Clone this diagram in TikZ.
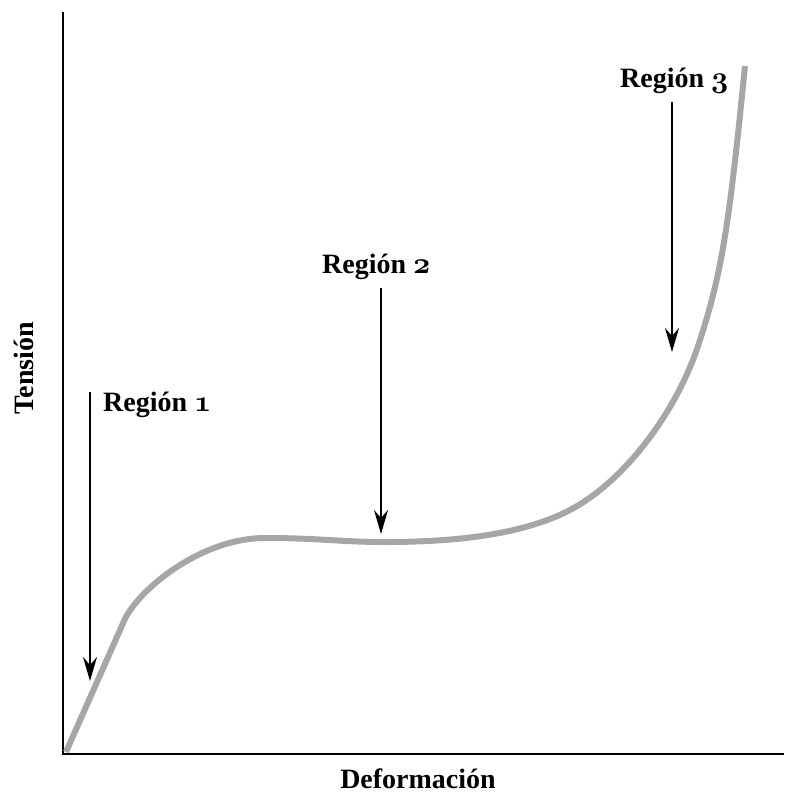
\documentclass[tikz,border=0pt]{standalone}
\usepackage{fix-cm}
\usepackage{fontspec}
\usetikzlibrary{arrows.meta}
% label face
\newfontfamily\labfont{Liberation Serif}
% old-style digits taken from the bold math italic font
\newcommand\osdigit[1]{{\fontsize{30}{34}\usefont{OML}{cmm}{b}{it}#1}}
\definecolor{curvegray}{HTML}{A6A6A6}
\begin{document}
\begin{tikzpicture}[x=1pt,y=-1pt,
  axisline/.style={line width=2.2pt,line cap=butt},
  curveline/.style={curvegray,line width=6pt,line cap=butt,line join=round},
  pointer/.style={line width=2.4pt,-{Stealth[length=24pt,width=14pt,inset=8pt]}},
  lab/.style={inner sep=0pt,font=\labfont\bfseries\fontsize{28}{34}\selectfont}]
  \useasboundingbox (0,0) rectangle (795,796);

  % axes
  \coordinate (ytop) at (63,12);
  \coordinate (orig) at (63,754);
  \coordinate (xend) at (784,754);
  \draw[axisline] (ytop) -- (orig) -- (xend);

  % stress-strain curve
  \draw[curveline] (66,752) -- (124,621)
    .. controls (137,591) and (200,538) .. (265,538)
    .. controls (320,538) and (340,542) .. (385,542)
    .. controls (450,542) and (520,536) .. (570,510)
    .. controls (625,481) and (676,412) .. (698,346)
    .. controls (722,274) and (729,226) .. (745,66);

  % axis titles
  \node[lab,rotate=90,anchor=base] (ylab) at (33,368) {Tensión};
  \node[lab,anchor=base] (xlab) at (418,788) {Deformación};

  % region labels
  \node[lab,anchor=base west] (r1) at (103,411) {Región \osdigit{1}};
  \node[lab,anchor=base west] (r2) at (322,273) {Región \osdigit{2}};
  \node[lab,anchor=base west] (r3) at (620,87) {Región \osdigit{3}};

  % pointers to the three regions
  \coordinate (p1s) at (90,392);  \coordinate (p1e) at (90,681);
  \coordinate (p2s) at (381,288); \coordinate (p2e) at (381,534);
  \coordinate (p3s) at (672,102); \coordinate (p3e) at (672,352);
  \draw[pointer] (p1s) -- (p1e);
  \draw[pointer] (p2s) -- (p2e);
  \draw[pointer] (p3s) -- (p3e);
\end{tikzpicture}
\end{document}
